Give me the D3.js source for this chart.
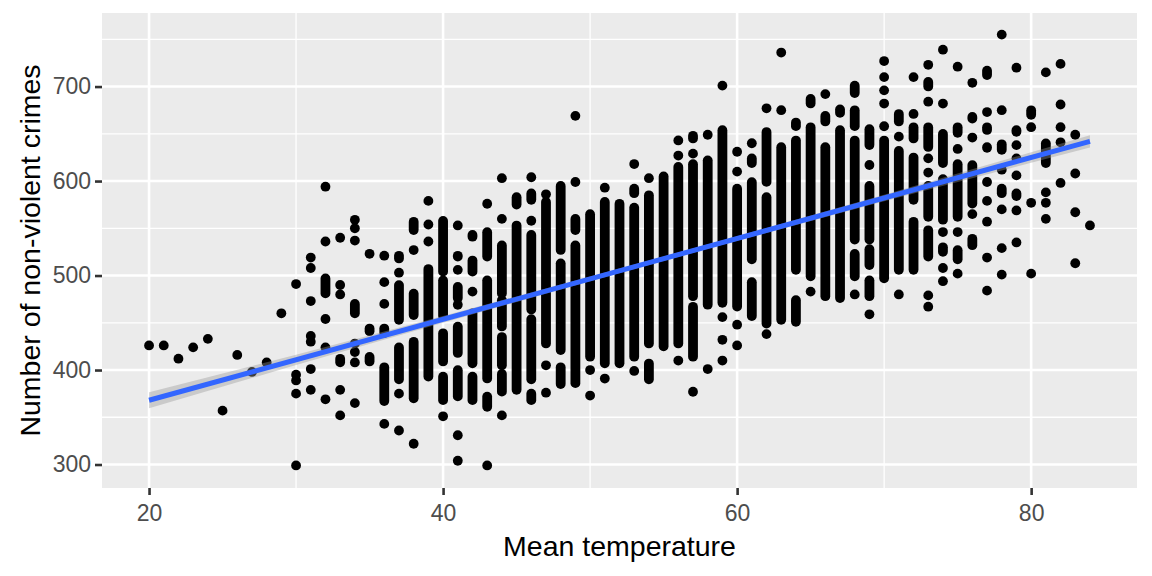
<!DOCTYPE html>
<html>
<head>
<meta charset="utf-8">
<script src="https://cdn.jsdelivr.net/npm/d3@7"></script>
<style>
  body { margin: 0; background: #fff; }
  text { font-family: "Liberation Sans", Arial, sans-serif; }
</style>
</head>
<body>
<svg id="chart" width="1152" height="576"></svg>
<script>
// one entry per mean temperature (20..84)
const temps = d3.range(20, 85);

// single visible points per temperature
const lonePoints = [
  [426], [426], [412], [424], [433], [357], [416], [398], [408], [460],
  [491, 395, 389, 375, 299],
  [519, 508, 473, 436, 430, 401, 379],
  [594, 536, 454, 424, 369],
  [540, 490, 480, 379, 352],
  [559, 550, 537, 428, 419, 408, 365],
  [523],
  [521, 493, 470, 343],
  [503, 375, 336],
  [527, 322],
  [579, 554, 536],
  [351],
  [553, 506, 469, 331, 304],
  [483],
  [576, 299],
  [603, 560, 352],
  [],
  [604, 558],
  [586, 405, 376],
  [],
  [669, 599],
  [400, 373],
  [593, 391],
  [],
  [618, 399],
  [603],
  [],
  [643, 627, 410],
  [629, 377],
  [649, 401],
  [701, 456, 432, 410],
  [631, 610, 448, 426],
  [640],
  [677, 438],
  [736, 675],
  [],
  [483],
  [692],
  [],
  [480],
  [617, 459],
  [727, 710, 696, 682, 658],
  [647, 480],
  [710, 671],
  [723, 684, 624, 609, 479, 467],
  [739, 682, 546, 508, 494],
  [721, 634, 546, 502],
  [704, 646, 565],
  [673, 599, 579, 557, 519, 484],
  [755, 675, 612, 570, 529, 501],
  [720, 638, 624, 606, 535],
  [657, 577, 502],
  [715, 588, 577, 560],
  [724, 681, 657, 641, 598],
  [649, 608, 567, 513],
  [553]
];

// stacks of overlapping points per temperature, [low, high]
const pointStacks = [
  [], [], [], [], [], [], [], [], [], [], [], [],
  [[479, 499]],
  [[406, 414]],
  [[458, 472]],
  [[439, 446], [407, 416]],
  [[437, 446], [365, 405]],
  [[516, 523], [451, 492], [388, 426]],
  [[546, 559], [456, 483], [368, 432]],
  [[391, 509]],
  [[502, 560], [455, 497], [407, 441], [366, 395]],
  [[518, 523], [474, 490], [416, 448], [370, 402]],
  [[539, 545], [502, 518], [405, 462], [366, 395]],
  [[518, 548], [389, 497], [359, 374]],
  [[479, 534], [444, 476], [403, 437], [375, 398]],
  [[573, 585], [377, 555]],
  [[578, 589], [462, 545], [388, 456], [366, 377]],
  [[426, 580]],
  [[525, 597], [419, 515], [383, 405]],
  [[546, 562], [384, 534]],
  [[412, 567]],
  [[405, 580]],
  [[405, 578]],
  [[585, 594], [412, 574]],
  [[426, 587], [388, 409]],
  [[423, 607]],
  [[426, 617]],
  [[643, 650], [476, 620], [412, 469]],
  [[467, 624]],
  [[469, 656]],
  [[465, 594]],
  [[617, 626], [515, 601], [455, 495]],
  [[597, 654], [447, 585]],
  [[451, 638]],
  [[656, 664], [504, 645], [449, 476]],
  [[680, 689], [497, 659]],
  [[661, 671], [476, 638]],
  [[670, 678], [474, 656]],
  [[691, 703], [656, 677], [536, 645], [497, 525]],
  [[636, 657], [536, 597], [509, 530], [476, 497]],
  [[495, 645]],
  [[661, 673], [504, 634]],
  [[643, 659], [578, 627], [504, 559]],
  [[698, 707], [634, 659], [560, 597], [518, 550]],
  [[617, 652], [557, 604], [523, 532]],
  [[649, 659], [560, 620], [515, 529]],
  [[664, 670], [574, 619], [530, 541]],
  [[710, 719], [652, 659], [633, 638]],
  [[631, 641], [585, 594]],
  [[650, 656], [582, 589], [567, 571]],
  [[668, 677]],
  [[617, 642]],
  [], [], []
];

// linear fit and its confidence band
const fitX = [20, 84];
const fitY = [368, 642];
const bandX = [20, 30, 40, 50, 55, 60, 70, 80, 84];
const bandLow = [359.5, 405.3, 450.1, 493.9, 515.5, 536.7, 578.5, 619.4, 635.5];
const bandHigh = [376.5, 416.3, 457.1, 498.9, 520.1, 541.7, 585.5, 630.4, 648.5];

const xTicks = [20, 40, 60, 80];
const yTicks = [300, 400, 500, 600, 700];

const panel = { left: 102, right: 1137, top: 13, bottom: 488 };
const r = 4.9;

const svg = d3.select("#chart");

// ggplot style 5% expansion
const xMin = 20, xMax = 84, yMin = 298, yMax = 755;
const x = d3.scaleLinear()
  .domain([xMin - (xMax - xMin) * 0.05, xMax + (xMax - xMin) * 0.05])
  .range([panel.left, panel.right]);
const y = d3.scaleLinear()
  .domain([yMin - (yMax - yMin) * 0.05, yMax + (yMax - yMin) * 0.05])
  .range([panel.bottom, panel.top]);

// panel background
svg.append("rect")
  .attr("x", panel.left).attr("y", panel.top)
  .attr("width", panel.right - panel.left)
  .attr("height", panel.bottom - panel.top)
  .attr("fill", "#EBEBEB");

// minor grid
const xMinor = [30, 50, 70];
const yMinor = [350, 450, 550, 650, 750];
svg.selectAll(".xminor").data(xMinor).join("line")
  .attr("class", "xminor")
  .attr("x1", d => x(d)).attr("x2", d => x(d))
  .attr("y1", panel.top).attr("y2", panel.bottom)
  .attr("stroke", "#fff").attr("stroke-width", 1.3);
svg.selectAll(".yminor").data(yMinor).join("line")
  .attr("class", "yminor")
  .attr("y1", d => y(d)).attr("y2", d => y(d))
  .attr("x1", panel.left).attr("x2", panel.right)
  .attr("stroke", "#fff").attr("stroke-width", 1.3);

// major grid
svg.selectAll(".xmajor").data(xTicks).join("line")
  .attr("class", "xmajor")
  .attr("x1", d => x(d)).attr("x2", d => x(d))
  .attr("y1", panel.top).attr("y2", panel.bottom)
  .attr("stroke", "#fff").attr("stroke-width", 2.6);
svg.selectAll(".ymajor").data(yTicks).join("line")
  .attr("class", "ymajor")
  .attr("y1", d => y(d)).attr("y2", d => y(d))
  .attr("x1", panel.left).attr("x2", panel.right)
  .attr("stroke", "#fff").attr("stroke-width", 2.6);

// points
const singles = [];
const stacks = [];
temps.forEach((t, i) => {
  lonePoints[i].forEach(v => singles.push({ t: t, v: v }));
  pointStacks[i].forEach(s => stacks.push({ t: t, lo: s[0], hi: s[1] }));
});

// a stack of overlapping dots looks like a pill
svg.selectAll(".stack").data(stacks).join("rect")
  .attr("class", "stack")
  .attr("x", d => x(d.t) - r)
  .attr("width", r * 2)
  .attr("y", d => y(d.hi) + 2 - r)
  .attr("height", d => Math.max(y(d.lo) - y(d.hi) - 4, 0) + 2 * r)
  .attr("rx", r)
  .attr("ry", r)
  .attr("fill", "#000");

svg.selectAll(".pt").data(singles).join("circle")
  .attr("class", "pt")
  .attr("cx", d => x(d.t))
  .attr("cy", d => y(d.v))
  .attr("r", r)
  .attr("fill", "#000");

// confidence band
const band = d3.area()
  .x((d, i) => x(bandX[i]))
  .y0((d, i) => y(bandLow[i]))
  .y1((d, i) => y(bandHigh[i]));
svg.append("path")
  .datum(bandX)
  .attr("d", band)
  .attr("fill", "#999999")
  .attr("fill-opacity", 0.4);

// fitted line
svg.append("path")
  .datum(fitX)
  .attr("d", d3.line().x(d => x(d)).y((d, i) => y(fitY[i])))
  .attr("fill", "none")
  .attr("stroke", "#3366FF")
  .attr("stroke-width", 5);

// axes
const xAxis = svg.append("g")
  .attr("transform", `translate(0,${panel.bottom})`)
  .call(d3.axisBottom(x).tickValues(xTicks).tickSize(7).tickPadding(4));
const yAxis = svg.append("g")
  .attr("transform", `translate(${panel.left},0)`)
  .call(d3.axisLeft(y).tickValues(yTicks).tickSize(7).tickPadding(4));

[xAxis, yAxis].forEach(g => {
  g.select(".domain").remove();
  g.selectAll(".tick line").attr("stroke", "#333333").attr("stroke-width", 2.6);
  g.selectAll(".tick text")
    .attr("fill", "#4D4D4D")
    .style("font-size", "23px")
    .style("font-family", "'Liberation Sans', Arial, sans-serif");
});
xAxis.selectAll(".tick text").attr("dy", "0.95em");

// titles
svg.append("text")
  .attr("x", (panel.left + panel.right) / 2)
  .attr("y", 556)
  .attr("text-anchor", "middle")
  .attr("fill", "#000")
  .style("font-size", "28.5px")
  .text("Mean temperature");

svg.append("text")
  .attr("transform", `translate(40,${(panel.top + panel.bottom) / 2}) rotate(-90)`)
  .attr("text-anchor", "middle")
  .attr("fill", "#000")
  .style("font-size", "28.5px")
  .text("Number of non-violent crimes");
</script>
</body>
</html>
